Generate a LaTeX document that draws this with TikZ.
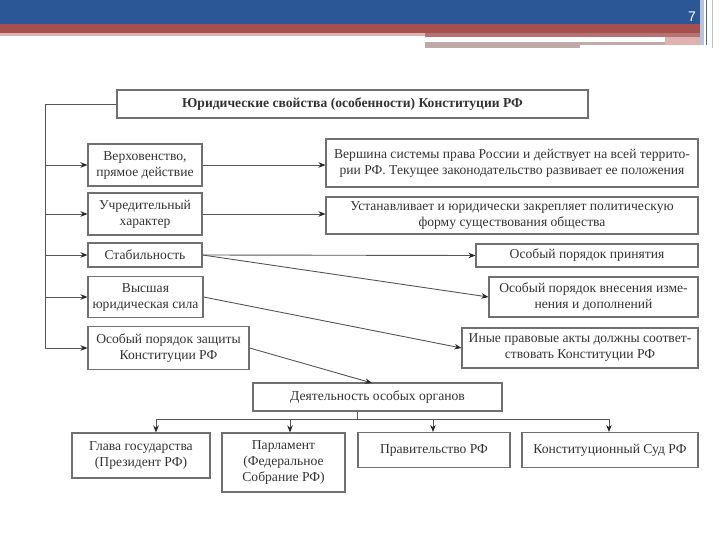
\documentclass[tikz,border=0pt]{standalone}
\usepackage{fontspec}
\setmainfont{Liberation Serif}
\setsansfont{Liberation Sans}
\usetikzlibrary{arrows.meta}
\definecolor{hblue}{HTML}{2C5797}
\definecolor{hred}{HTML}{A5504F}
\definecolor{hpink}{HTML}{DDB2B0}
\definecolor{hgrey}{HTML}{BFA9A9}
\definecolor{bordc}{HTML}{707070}
\definecolor{linec}{HTML}{555555}
\definecolor{txtc}{HTML}{333333}
\tikzset{
  box/.style={draw=bordc, line width=1.1pt, inner sep=1pt, align=center,
    text=txtc, font=\fontsize{13.6}{16}\selectfont},
  conn/.style={draw=linec, line width=0.9pt},
  arr/.style={conn, -{Stealth[length=7pt,width=5.5pt,color=black!85]}},
}
\begin{document}
\begin{tikzpicture}[x=1pt,y=-1pt]
\useasboundingbox (0,0) rectangle (720,540);
% header
\fill[hblue] (0,0) rectangle (704,24);
\fill[hred] (0,24) rectangle (704,33);
\fill[hpink] (0,33) rectangle (425,36);
\fill[hred!80!white] (425,33) rectangle (704,37);
\fill[hgrey] (425,42) rectangle (665,45);
\fill[hgrey] (425,45) rectangle (580,48);
\fill[hpink] (665,37) rectangle (704,45);
\fill[hblue!35!white] (700,0) rectangle (704,45);
\draw[hblue!60!gray, line width=1pt] (706,0) -- (706,45);
\draw[gray!50, line width=1pt] (712,0) -- (712,48);
\node[text=white, font=\fontsize{14}{14}\selectfont\sffamily] (pnum) at (692,17) {7};

% top box
\node[box, font=\fontsize{13.6}{16}\selectfont\bfseries, minimum width=471pt, minimum height=28pt] (top) at (352.5,104) {Юридические свойства (особенности) Конституции РФ};

% left boxes
\node[box, minimum width=114pt, minimum height=42pt] (l1) at (145,165) {Верховенство,\\прямое действие};
\node[box, minimum width=114pt, minimum height=42pt] (l2) at (145,214) {Учредительный\\характер};
\node[box, minimum width=114pt, minimum height=24pt] (l3) at (145,255) {Стабильность};
\node[box, minimum width=115pt, minimum height=41pt] (l4) at (145.5,297) {Высшая\\юридическая сила};
\node[box, minimum width=161pt, minimum height=43pt] (l5) at (168.5,348) {Особый порядок защиты\\Конституции РФ};

% right boxes
\node[box, minimum width=372pt, minimum height=48pt] (r1) at (512,163) {Вершина системы права России и действует на всей террито-\\рии РФ. Текущее законодательство развивает ее положения};
\node[box, minimum width=372pt, minimum height=37pt] (r2) at (512,215.5) {Устанавливает и юридически закрепляет политическую\\форму существования общества};
\node[box, minimum width=222pt, minimum height=23pt] (r3) at (587,255.5) {Особый порядок принятия};
\node[box, minimum width=209pt, minimum height=40pt] (r4) at (593.5,297) {Особый порядок внесения изме-\\нения и дополнений};
\node[box, minimum width=236pt, minimum height=40pt] (r5) at (580,348) {Иные правовые акты должны соответ-\\ствовать Конституции РФ};

% organs
\node[box, minimum width=249pt, minimum height=28pt] (d) at (377.5,397) {Деятельность особых органов};
\node[box, minimum width=138pt, minimum height=45pt] (b1) at (141,455.5) {Глава государства\\(Президент РФ)};
\node[box, minimum width=123pt, minimum height=59pt] (b2) at (283.5,462.5) {Парламент\\(Федеральное\\Собрание РФ)};
\node[box, minimum width=152pt, minimum height=35pt] (b3) at (434,450) {Правительство РФ};
\node[box, minimum width=176pt, minimum height=35pt] (b4) at (610,450) {Конституционный Суд РФ};

% left spine
\coordinate (vtop) at (45,104);
\coordinate (vbot) at (45,348);
\draw[conn] (top.west) -- (vtop) -- (vbot);
\foreach \n in {l1,l2,l3,l4,l5}{
  \draw[arr] (vtop |- \n.west) -- (\n.west);
}

% left to right
\draw[arr] (l1.east) -- (r1.west |- l1.east);
\draw[arr] (l2.east) -- (r2.west |- l2.east);
\draw[arr] (l3.east) -- (r3.west);
\draw[arr] (l3.east) -- (r4.west);
\draw[arr] (l4.east) -- (r5.west);
\coordinate (dtarget) at (372,383);
\draw[arr] (l5.east) -- (dtarget);

% organs branch
\coordinate (dj) at (357,419);
\coordinate (a1) at (156,419);
\coordinate (a2) at (290,419);
\coordinate (a3) at (433,419);
\coordinate (a4) at (609,419);
\draw[conn] (dj |- d.south) -- (dj);
\draw[conn] (a1) -- (a4);
\draw[arr] (a1) -- (a1 |- b1.north);
\draw[arr] (a2) -- (a2 |- b2.north);
\draw[arr] (a3) -- (a3 |- b3.north);
\draw[arr] (a4) -- (a4 |- b4.north);
\end{tikzpicture}
\end{document}
